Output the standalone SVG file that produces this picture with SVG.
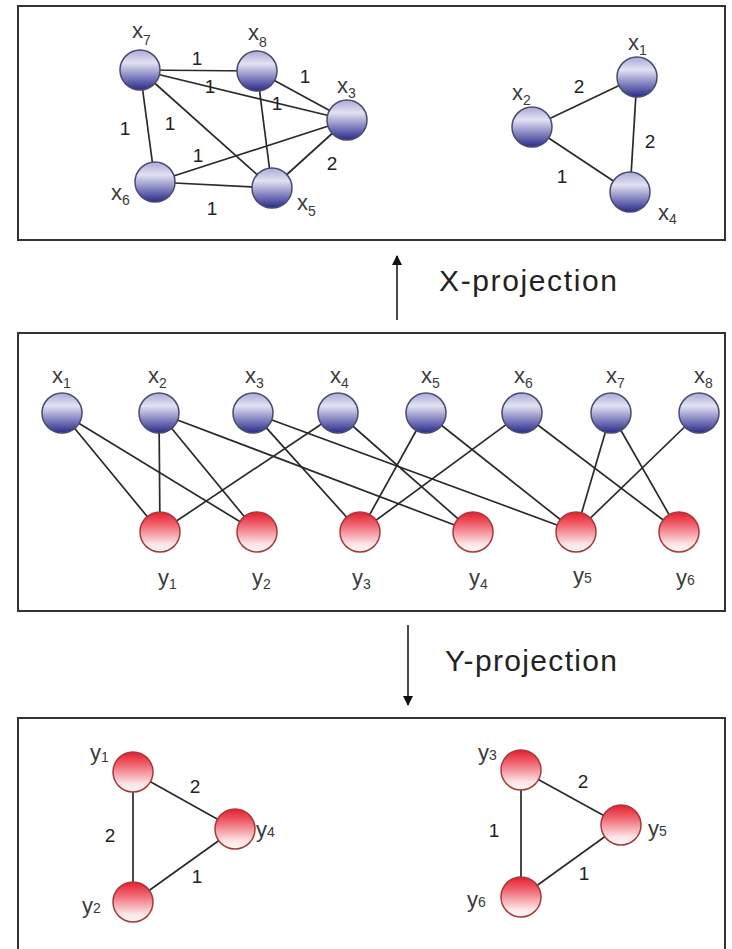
<svg xmlns="http://www.w3.org/2000/svg" width="732" height="949" viewBox="0 0 732 949">
<defs>
<linearGradient id="gb" x1="0" y1="0" x2="0" y2="1">
<stop offset="0" stop-color="#a9a9d8"/>
<stop offset="0.32" stop-color="#e2e2f2"/>
<stop offset="0.7" stop-color="#7a7abc"/>
<stop offset="1" stop-color="#2a2a8a"/>
</linearGradient>
<linearGradient id="gr" x1="0" y1="0" x2="0" y2="1">
<stop offset="0" stop-color="#e41e2c"/>
<stop offset="0.35" stop-color="#f06c77"/>
<stop offset="0.8" stop-color="#fde4e6"/>
<stop offset="1" stop-color="#fff8f8"/>
</linearGradient>
<marker id="ah" viewBox="0 0 10 10" refX="9" refY="5" markerWidth="10" markerHeight="10" markerUnits="userSpaceOnUse" orient="auto">
<path d="M0,0 L10,5 L0,10 z" fill="#111"/>
</marker>
</defs>
<style>
.box{fill:none;stroke:#333;stroke-width:2}
.bn{fill:url(#gb);stroke:#4a4a6e;stroke-width:1.5}
.rn{fill:url(#gr);stroke:#a83838;stroke-width:1.5}
.e{stroke:#2a2a2a;stroke-width:1.7;fill:none}
.lb{font-family:"Liberation Sans",Arial,sans-serif;font-size:22px;fill:#3a3a3a}
.sb{font-size:14px}
.w{font-family:"Liberation Sans",Arial,sans-serif;font-size:19px;fill:#222;text-anchor:middle}
.pr{font-family:"Liberation Sans",Arial,sans-serif;font-size:30px;fill:#222}
</style>
<rect width="732" height="949" fill="#fff"/>
<rect class="box" x="18" y="6" width="707" height="234"/>
<rect class="box" x="18" y="333" width="707" height="278"/>
<rect class="box" x="18" y="718" width="707" height="240"/>

<g id="connectors">
<line class="e" x1="140" y1="70" x2="257" y2="71"/>
<line class="e" x1="140" y1="70" x2="347" y2="120"/>
<line class="e" x1="140" y1="70" x2="155" y2="182"/>
<line class="e" x1="140" y1="70" x2="272" y2="188"/>
<line class="e" x1="257" y1="71" x2="347" y2="120"/>
<line class="e" x1="257" y1="71" x2="272" y2="188"/>
<line class="e" x1="155" y1="182" x2="347" y2="120"/>
<line class="e" x1="155" y1="182" x2="272" y2="188"/>
<line class="e" x1="347" y1="120" x2="272" y2="188"/>
<line class="e" x1="532" y1="127" x2="637" y2="77"/>
<line class="e" x1="637" y1="77" x2="630" y2="192"/>
<line class="e" x1="532" y1="127" x2="630" y2="192"/>
<line class="e" x1="62" y1="413" x2="160" y2="532"/>
<line class="e" x1="62" y1="413" x2="257" y2="532"/>
<line class="e" x1="159" y1="413" x2="160" y2="532"/>
<line class="e" x1="159" y1="413" x2="257" y2="532"/>
<line class="e" x1="159" y1="413" x2="473" y2="532"/>
<line class="e" x1="253" y1="413" x2="360" y2="532"/>
<line class="e" x1="253" y1="413" x2="576" y2="532"/>
<line class="e" x1="338" y1="413" x2="160" y2="532"/>
<line class="e" x1="338" y1="413" x2="473" y2="532"/>
<line class="e" x1="426" y1="413" x2="360" y2="532"/>
<line class="e" x1="426" y1="413" x2="576" y2="532"/>
<line class="e" x1="522" y1="413" x2="360" y2="532"/>
<line class="e" x1="522" y1="413" x2="679" y2="532"/>
<line class="e" x1="611" y1="413" x2="576" y2="532"/>
<line class="e" x1="611" y1="413" x2="679" y2="532"/>
<line class="e" x1="699" y1="413" x2="576" y2="532"/>
<line class="e" x1="133" y1="772" x2="133" y2="902"/>
<line class="e" x1="133" y1="772" x2="235" y2="829"/>
<line class="e" x1="133" y1="902" x2="235" y2="829"/>
<line class="e" x1="521" y1="770" x2="521" y2="897"/>
<line class="e" x1="521" y1="770" x2="621" y2="825"/>
<line class="e" x1="521" y1="897" x2="621" y2="825"/>
<line class="e" x1="397" y1="320" x2="397" y2="256" marker-end="url(#ah)"/>
<line class="e" x1="408" y1="625" x2="408" y2="705" marker-end="url(#ah)"/>
</g>

<g id="weights">
<text class="w" x="197" y="65">1</text>
<text class="w" x="305" y="83">1</text>
<text class="w" x="210" y="93">1</text>
<text class="w" x="277" y="110">1</text>
<text class="w" x="125" y="135">1</text>
<text class="w" x="170" y="130">1</text>
<text class="w" x="198" y="162">1</text>
<text class="w" x="332" y="170">2</text>
<text class="w" x="212" y="215">1</text>
<text class="w" x="579" y="93">2</text>
<text class="w" x="650" y="148">2</text>
<text class="w" x="562" y="183">1</text>
<text class="w" x="195" y="793">2</text>
<text class="w" x="110" y="842">2</text>
<text class="w" x="197" y="883">1</text>
<text class="w" x="583" y="788">2</text>
<text class="w" x="494" y="837">1</text>
<text class="w" x="584" y="880">1</text>
</g>

<g id="top-x7"><circle class="bn" cx="140" cy="70" r="20"/><text class="lb" x="132" y="38">x<tspan class="sb" dy="7">7</tspan></text></g>
<g id="top-x8"><circle class="bn" cx="257" cy="71" r="20"/><text class="lb" x="248" y="40">x<tspan class="sb" dy="7">8</tspan></text></g>
<g id="top-x3"><circle class="bn" cx="347" cy="120" r="20"/><text class="lb" x="337" y="93">x<tspan class="sb" dy="5">3</tspan></text></g>
<g id="top-x6"><circle class="bn" cx="155" cy="182" r="20"/><text class="lb" x="111" y="200">x<tspan class="sb" dy="5">6</tspan></text></g>
<g id="top-x5"><circle class="bn" cx="272" cy="188" r="20"/><text class="lb" x="297" y="210">x<tspan class="sb" dy="6">5</tspan></text></g>
<g id="top-x1"><circle class="bn" cx="637" cy="77" r="20"/><text class="lb" x="628" y="50">x<tspan class="sb" dy="5">1</tspan></text></g>
<g id="top-x2"><circle class="bn" cx="532" cy="127" r="20"/><text class="lb" x="512" y="100">x<tspan class="sb" dy="5">2</tspan></text></g>
<g id="top-x4"><circle class="bn" cx="630" cy="192" r="20"/><text class="lb" x="658" y="220">x<tspan class="sb" dy="4">4</tspan></text></g>

<g id="mid-x1"><circle class="bn" cx="62" cy="413" r="20"/><text class="lb" x="52" y="383">x<tspan class="sb" dy="5">1</tspan></text></g>
<g id="mid-x2"><circle class="bn" cx="159" cy="413" r="20"/><text class="lb" x="148" y="383">x<tspan class="sb" dy="5">2</tspan></text></g>
<g id="mid-x3"><circle class="bn" cx="253" cy="413" r="20"/><text class="lb" x="245" y="383">x<tspan class="sb" dy="5">3</tspan></text></g>
<g id="mid-x4"><circle class="bn" cx="338" cy="413" r="20"/><text class="lb" x="330" y="383">x<tspan class="sb" dy="5">4</tspan></text></g>
<g id="mid-x5"><circle class="bn" cx="426" cy="413" r="20"/><text class="lb" x="421" y="383">x<tspan class="sb" dy="5">5</tspan></text></g>
<g id="mid-x6"><circle class="bn" cx="522" cy="413" r="20"/><text class="lb" x="514" y="383">x<tspan class="sb" dy="5">6</tspan></text></g>
<g id="mid-x7"><circle class="bn" cx="611" cy="413" r="20"/><text class="lb" x="606" y="383">x<tspan class="sb" dy="5">7</tspan></text></g>
<g id="mid-x8"><circle class="bn" cx="699" cy="413" r="20"/><text class="lb" x="694" y="383">x<tspan class="sb" dy="5">8</tspan></text></g>

<g id="mid-y1"><circle class="rn" cx="160" cy="532" r="20"/><text class="lb" x="158" y="585">y<tspan class="sb" dy="4">1</tspan></text></g>
<g id="mid-y2"><circle class="rn" cx="257" cy="532" r="20"/><text class="lb" x="252" y="585">y<tspan class="sb" dy="4">2</tspan></text></g>
<g id="mid-y3"><circle class="rn" cx="360" cy="532" r="20"/><text class="lb" x="352" y="585">y<tspan class="sb" dy="4">3</tspan></text></g>
<g id="mid-y4"><circle class="rn" cx="473" cy="532" r="20"/><text class="lb" x="469" y="585">y<tspan class="sb" dy="4">4</tspan></text></g>
<g id="mid-y5"><circle class="rn" cx="576" cy="532" r="20"/><text class="lb" x="573" y="583">y<tspan class="sb" dy="0">5</tspan></text></g>
<g id="mid-y6"><circle class="rn" cx="679" cy="532" r="20"/><text class="lb" x="676" y="585">y<tspan class="sb" dy="0">6</tspan></text></g>

<g id="bot-y1"><circle class="rn" cx="133" cy="772" r="20"/><text class="lb" x="90" y="760">y<tspan class="sb" dy="2">1</tspan></text></g>
<g id="bot-y4"><circle class="rn" cx="235" cy="829" r="20"/><text class="lb" x="256" y="837">y<tspan class="sb" dy="0">4</tspan></text></g>
<g id="bot-y2"><circle class="rn" cx="133" cy="902" r="20"/><text class="lb" x="82" y="913">y<tspan class="sb" dy="0">2</tspan></text></g>
<g id="bot-y3"><circle class="rn" cx="521" cy="770" r="20"/><text class="lb" x="478" y="760">y<tspan class="sb" dy="0">3</tspan></text></g>
<g id="bot-y5"><circle class="rn" cx="621" cy="825" r="20"/><text class="lb" x="648" y="836">y<tspan class="sb" dy="0">5</tspan></text></g>
<g id="bot-y6"><circle class="rn" cx="521" cy="897" r="20"/><text class="lb" x="467" y="907">y<tspan class="sb" dy="0">6</tspan></text></g>

<g id="x-projection"><text class="pr" x="439" y="291" textLength="178" lengthAdjust="spacing">X-projection</text></g>
<g id="y-projection"><text class="pr" x="445" y="671" textLength="172" lengthAdjust="spacing">Y-projection</text></g>
</svg>
